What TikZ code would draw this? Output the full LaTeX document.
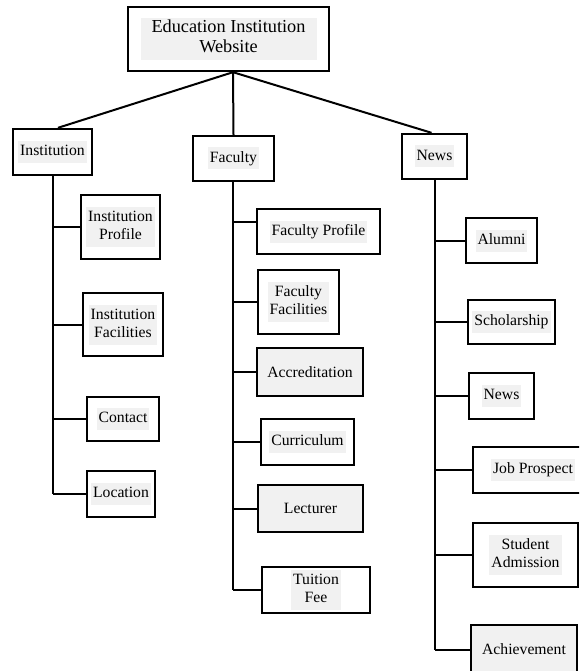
\documentclass[tikz,border=0pt]{standalone}
\usepackage{fontspec}
\setmainfont{Liberation Serif}
\usetikzlibrary{calc}
\definecolor{hlgray}{RGB}{241,241,241}
\newcommand{\hlbox}[1]{{\setlength{\fboxsep}{2pt}\colorbox{hlgray}{\begin{tabular}{@{}c@{}}#1\end{tabular}}}}
\newcommand{\hlroot}[1]{{\setlength{\fboxsep}{1pt}\colorbox{hlgray}{\begin{tabular}{@{\hspace{10pt}}c@{\hspace{10pt}}}#1\end{tabular}}}}
\begin{document}
\begin{tikzpicture}[x=1pt,y=-1pt,
  box/.style={draw, line width=2.4pt, fill=white, inner sep=0pt, align=center,
    font=\fontsize{15.7}{18}\selectfont},
  fullgray/.style={fill=hlgray},
  conn/.style={line width=2pt}]
\useasboundingbox (0,0) rectangle (579,671);
\clip (0,0) rectangle (579,671);

% top level
\node[box, minimum width=201, minimum height=64, font=\fontsize{18.3}{20}\selectfont] (root) at (228.5,39) {\hlroot{Education Institution\\Website}};
\node[box, minimum width=79, minimum height=46] (inst) at (52.5,152) {\hlbox{Institution}};
\node[box, minimum width=81, minimum height=45] (fac) at (233.5,158.5) {\hlbox{Faculty}};
\node[box, minimum width=65, minimum height=45] (news) at (434.5,156.5) {\hlbox{News}};

% institution column
\node[box, minimum width=79, minimum height=64] (ip) at (120.5,227) {\hlbox{Institution\\Profile}};
\node[box, minimum width=80, minimum height=63] (if) at (123,324.5) {\hlbox{Institution\\Facilities}};
\node[box, minimum width=72, minimum height=44] (ct) at (123,419) {\hlbox{Contact}};
\node[box, minimum width=68, minimum height=46] (lo) at (121,494) {\hlbox{Location}};

% faculty column
\node[box, minimum width=123, minimum height=45] (fp) at (318.5,231.5) {\hlbox{Faculty Profile}};
\node[box, minimum width=81, minimum height=64] (ff) at (298.5,302) {\hlbox{Faculty\\Facilities}};
\node[box, fullgray, minimum width=106, minimum height=48] (ac) at (310,372) {Accreditation};
\node[box, minimum width=93, minimum height=46] (cu) at (307.5,442) {\hlbox{Curriculum}};
\node[box, fullgray, minimum width=105, minimum height=47] (le) at (310.5,508.5) {Lecturer};
\node[box, minimum width=108, minimum height=46] (tf) at (316,590) {\hlbox{Tuition\\Fee}};

% news column
\node[box, minimum width=71, minimum height=45] (al) at (501.5,240.5) {\hlbox{Alumni}};
\node[box, minimum width=87, minimum height=44] (sc) at (511.5,322) {\hlbox{Scholarship}};
\node[box, minimum width=65, minimum height=46] (nw) at (501.5,396) {\hlbox{News}};
\node[box, minimum width=120, minimum height=46] (jp) at (533,470) {\hlbox{Job Prospect}};
\node[box, minimum width=105, minimum height=64] (sa) at (525.5,555) {\hlbox{Student\\Admission}};
\node[box, fullgray, minimum width=106, minimum height=49] (ach) at (524,649.5) {Achievement};

% junction coordinates
\coordinate (rj) at ([xshift=4.5pt]root.south);
\coordinate (fv) at ([xshift=-1pt]fac.south);
\coordinate (fpj) at ($(fp.west)+(0,-9.5)$);

% root connectors
\draw[conn] (rj) -- ([xshift=5.5pt]inst.north);
\draw[conn] (rj) -- (fac.north);
\draw[conn] (rj) -- ([xshift=-3pt]news.north);

% vertical spines
\draw[conn] (inst.south) -- (inst.south |- lo.west);
\draw[conn] (fv) -- (fv |- tf.west);
\draw[conn] (news.south) -- (news.south |- ach.west);

% institution branches
\foreach \n in {ip,if,ct,lo} \draw[conn] (\n.west) -- (\n.west -| inst.south);

% faculty branches
\draw[conn] (fpj) -- (fpj -| fv);
\foreach \n in {ff,ac,cu,le,tf} \draw[conn] (\n.west) -- (\n.west -| fv);

% news branches
\foreach \n in {al,sc,nw,jp,sa,ach} \draw[conn] (\n.west) -- (\n.west -| news.south);
\end{tikzpicture}
\end{document}
